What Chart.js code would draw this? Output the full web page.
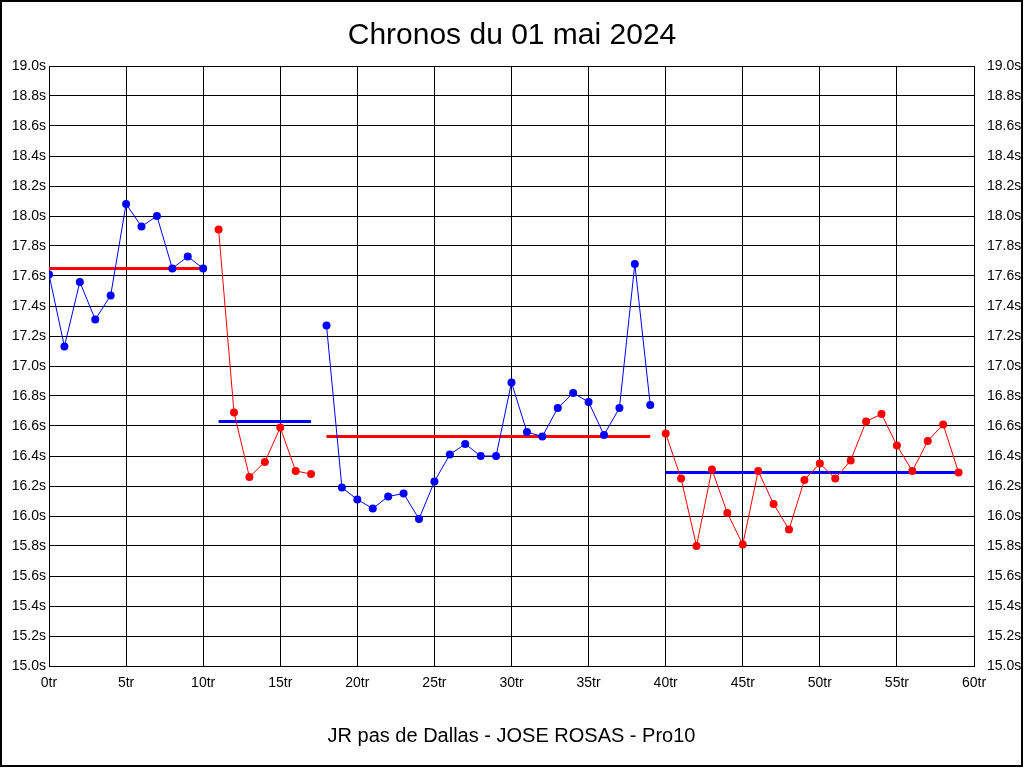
<!DOCTYPE html>
<html>
<head>
<meta charset="utf-8">
<title>Chronos du 01 mai 2024</title>
<script src="https://cdn.jsdelivr.net/npm/chart.js@4/dist/chart.umd.min.js"></script>
<style>
  body { margin: 0; background: #fff; }
  #wrap { width: 1024px; height: 768px; }
</style>
</head>
<body>
<div id="wrap"><canvas id="chronoChart" width="1024" height="768"></canvas></div>
<script>
// lap times (seconds), one array per relay, with the lap index where it starts
const relay1Start = 0;
const relay1 = [17.61, 17.13, 17.56, 17.31, 17.47, 18.08, 17.93, 18.0, 17.65, 17.73, 17.65];
const relay2Start = 11;
const relay2 = [17.91, 16.69, 16.26, 16.36, 16.59, 16.3, 16.28];
const relay3Start = 18;
const relay3 = [17.27, 16.19, 16.11, 16.05, 16.13, 16.15, 15.98, 16.23, 16.41, 16.48, 16.4,
  16.4, 16.89, 16.56, 16.53, 16.72, 16.82, 16.76, 16.54, 16.72, 17.68, 16.74];
const relay4Start = 40;
const relay4 = [16.55, 16.25, 15.8, 16.31, 16.02, 15.81, 16.3, 16.08, 15.91, 16.24,
  16.35, 16.25, 16.37, 16.63, 16.68, 16.47, 16.3, 16.5, 16.61, 16.29];

// average of each relay
const means = [17.65, 16.63, 16.53, 16.29];

const xTicks = [0, 5, 10, 15, 20, 25, 30, 35, 40, 45, 50, 55, 60];
const yMin = 15.0;
const yMax = 19.0;

const BLUE = "#0000ff";
const RED = "#ff0000";
const FONT = "'Liberation Sans', Arial, sans-serif";

function toPoints(start, values) {
  return values.map((v, i) => ({ x: start + i, y: v }));
}

function lapSeries(start, values, color) {
  return {
    data: toPoints(start, values),
    borderColor: color,
    backgroundColor: color,
    borderWidth: 1,
    pointRadius: 4,
    pointBorderWidth: 0,
    tension: 0,
    order: 1,
  };
}

function meanLine(start, values, mean, color) {
  return {
    data: [
      { x: start, y: mean },
      { x: start + values.length - 1, y: mean },
    ],
    borderColor: color,
    borderWidth: 3,
    pointRadius: 0,
    order: 2,
  };
}

const frame = {
  id: "frame",
  beforeDraw(chart) {
    const ctx = chart.ctx;
    ctx.save();
    ctx.fillStyle = "#fff";
    ctx.fillRect(0, 0, chart.width, chart.height);
    ctx.restore();
  },
  afterDraw(chart) {
    const ctx = chart.ctx;
    ctx.save();
    ctx.strokeStyle = "#000";
    ctx.lineWidth = 2;
    ctx.strokeRect(1, 1, chart.width - 3, chart.height - 3);
    ctx.restore();
  },
};

const ctx = document.getElementById("chronoChart").getContext("2d");
new Chart(ctx, {
  type: "line",
  data: {
    datasets: [
      lapSeries(relay1Start, relay1, BLUE),
      lapSeries(relay2Start, relay2, RED),
      lapSeries(relay3Start, relay3, BLUE),
      lapSeries(relay4Start, relay4, RED),
      meanLine(relay1Start, relay1, means[0], RED),
      meanLine(relay2Start, relay2, means[1], BLUE),
      meanLine(relay3Start, relay3, means[2], RED),
      meanLine(relay4Start, relay4, means[3], BLUE),
    ],
  },
  options: {
    responsive: false,
    animation: false,
    layout: { padding: 0 },
    plugins: {
      legend: { display: false },
      tooltip: { enabled: false },
      title: {
        display: true,
        text: "Chronos du 01 mai 2024",
        color: "#000",
        font: { family: FONT, size: 30, weight: "normal" },
        padding: { top: 18, bottom: 12 },
      },
    },
    scales: {
      x: {
        type: "linear",
        min: 0,
        max: 60,
        afterBuildTicks: (scale) => {
          scale.ticks = xTicks.map((v) => ({ value: v }));
        },
        afterFit: (scale) => {
          scale.height = 102;
        },
        grid: { color: "#000", lineWidth: 1, drawTicks: false },
        border: { color: "#000", width: 1 },
        ticks: {
          color: "#000",
          padding: 9,
          font: { family: FONT, size: 14 },
          maxRotation: 0,
          callback: (v) => v + "tr",
        },
        title: {
          display: true,
          text: "JR pas de Dallas - JOSE ROSAS - Pro10",
          color: "#000",
          font: { family: FONT, size: 20 },
          padding: { top: 0, bottom: 20 },
        },
      },
      y: {
        position: "left",
        min: yMin,
        max: yMax,
        afterFit: (scale) => {
          scale.width = 49;
        },
        grid: { color: "#000", lineWidth: 1, drawTicks: false },
        border: { color: "#000", width: 1 },
        ticks: {
          stepSize: 0.2,
          autoSkip: false,
          color: "#000",
          padding: 3,
          font: { family: FONT, size: 14 },
          callback: (v) => v.toFixed(1) + "s",
        },
      },
      y2: {
        position: "right",
        min: yMin,
        max: yMax,
        afterFit: (scale) => {
          scale.width = 50;
        },
        grid: { display: false },
        border: { color: "#000", width: 1 },
        ticks: {
          stepSize: 0.2,
          autoSkip: false,
          color: "#000",
          padding: 5,
          font: { family: FONT, size: 14 },
          callback: (v) => v.toFixed(1) + "s",
        },
      },
    },
  },
  plugins: [frame],
});
</script>
</body>
</html>
